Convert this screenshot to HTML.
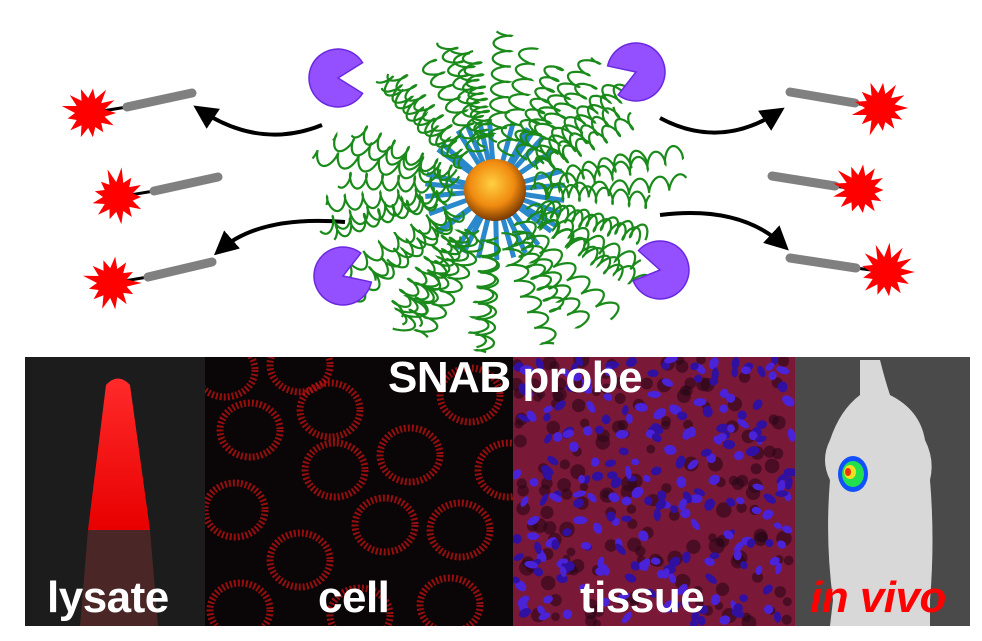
<!DOCTYPE html><html><head><meta charset="utf-8"><style>
html,body{margin:0;padding:0;background:#fff;width:982px;height:641px;overflow:hidden;font-family:"Liberation Sans",sans-serif}
svg{position:absolute;left:0;top:0}
.lab{position:absolute;font-weight:bold;font-size:44px;line-height:50px;color:#fff;letter-spacing:-0.5px}
</style></head><body>
<svg id="s" width="982" height="641" viewBox="0 0 982 641">
<defs>
<radialGradient id="np" cx="0.45" cy="0.4" r="0.6"><stop offset="0" stop-color="#ffd040"/><stop offset="0.6" stop-color="#f08a10"/><stop offset="1" stop-color="#7a3a00"/></radialGradient>
<linearGradient id="tube" x1="0" y1="0" x2="0" y2="1"><stop offset="0" stop-color="#ff2a2a"/><stop offset="1" stop-color="#e80000"/></linearGradient>
<marker id="ah" markerWidth="6" markerHeight="6" refX="4" refY="3" orient="auto" markerUnits="strokeWidth"><path d="M0,0 L6,3 L0,6 Z" fill="#000"/></marker>
<clipPath id="cc"><rect x="205" y="357" width="308" height="269"/></clipPath>
<clipPath id="tc"><rect x="513" y="357" width="282" height="269"/></clipPath>
</defs>
<g id="topg"></g>
<rect x="25" y="357" width="180" height="269" fill="#1c1c1c"/>
<path d="M106,385 Q118,372 130,385 L150,530 L88,530 Z" fill="url(#tube)"/>
<path d="M88,530 L150,530 L158,626 L80,626 Z" fill="#4a2626"/>
<rect x="205" y="357" width="308" height="269" fill="#0a0506"/>
<g id="cells" clip-path="url(#cc)"></g>
<rect x="513" y="357" width="282" height="269" fill="#7a1838"/>
<g id="tissue" clip-path="url(#tc)"></g>
<rect x="795" y="357" width="175" height="269" fill="#4a4a4a"/>
<path d="M860,360 L880,360 Q885,380 890,395 Q920,410 925,440 Q935,460 930,480 Q935,540 930,600 L930,626 L830,626 L833,600 Q825,540 830,480 Q820,460 830,440 Q840,410 860,395 Z" fill="#d8d8d8"/>
<ellipse cx="853" cy="474" rx="15" ry="18" fill="#1050ff"/>
<ellipse cx="853" cy="474" rx="11" ry="13" fill="#20e050"/>
<ellipse cx="850" cy="472" rx="6" ry="7" fill="#f0e020"/>
<ellipse cx="848" cy="472" rx="3" ry="4" fill="#f03010"/>
</svg>
<div class="lab" style="left:388px;top:353px">SNAB probe</div>
<div class="lab" style="left:47px;top:573px">lysate</div>
<div class="lab" style="left:318px;top:573px">cell</div>
<div class="lab" style="left:580px;top:573px">tissue</div>
<div class="lab" style="left:810px;top:573px;color:#f00;font-style:italic">in vivo</div>
<script>
(function(){
var NS="http://www.w3.org/2000/svg";
function el(p,t,a){var e=document.createElementNS(NS,t);for(var k in a)e.setAttribute(k,a[k]);p.appendChild(e);return e;}
var tg0=document.getElementById("topg");
var seed=7;function rnd(){seed=(seed*9301+49297)%233280;return seed/233280;}
function star(cx,cy,r){var p="";var n=26;for(var i=0;i<n;i++){var rr=i%2?r*0.5:r*(0.75+0.25*rnd());var a=i/n*Math.PI*2;p+=(i?"L":"M")+(cx+rr*Math.cos(a)).toFixed(1)+","+(cy+rr*Math.sin(a)).toFixed(1);}el(tg0,"path",{d:p+"Z",fill:"#ff0000"});}
function bar(x1,y1,x2,y2){el(tg0,"line",{x1:x1,y1:y1,x2:x2,y2:y2,stroke:"#808080","stroke-width":9,"stroke-linecap":"round"});}
var L=[[90,113,127,107,192,93],[118,197,154,191,218,177],[112,283,148,277,212,262]];
L.forEach(function(a){el(tg0,"line",{x1:a[0],y1:a[1],x2:a[2],y2:a[3],stroke:"#000","stroke-width":3});bar(a[2],a[3],a[4],a[5]);star(a[0],a[1],30);});
var R=[[880,108,855,103,790,92],[860,190,835,186,772,176],[886,272,856,268,790,258]];
R.forEach(function(a){el(tg0,"line",{x1:a[0],y1:a[1],x2:a[2],y2:a[3],stroke:"#000","stroke-width":3});bar(a[2],a[3],a[4],a[5]);star(a[0],a[1],30);});
["M322,125 Q260,150 200,110","M345,222 Q260,215 220,250","M660,118 Q720,150 778,112","M660,215 Q740,205 783,245"].forEach(function(d){el(tg0,"path",{d:d,fill:"none",stroke:"#000","stroke-width":4,"marker-end":"url(#ah)"});});
function pac(cx,cy,r,ang){var a1=(ang-32)*Math.PI/180,a2=(ang+32)*Math.PI/180;var d="M"+cx+","+cy+"L"+(cx+r*Math.cos(a1))+","+(cy+r*Math.sin(a1))+"A"+r+","+r+" 0 1,0 "+(cx+r*Math.cos(a2))+","+(cy+r*Math.sin(a2))+"Z";el(tg0,"path",{d:d,fill:"#9450ff",stroke:"#6a28e0","stroke-width":1.5});}
var cx=495,cy=190;
var gh=el(tg0,"g",{});
for(var i=0;i<30;i++){var a=i/30*Math.PI*2+rnd()*0.2;var ca=Math.cos(a),sa=Math.sin(a);
 el(gh,"line",{x1:cx+ca*30,y1:cy+sa*30,x2:cx+ca*70,y2:cy+sa*70,stroke:"#2a88cc","stroke-width":5});}
for(var i=0;i<46;i++){var a=i/46*Math.PI*2+(rnd()-0.5)*0.3;var ca=Math.cos(a),sa=Math.sin(a);
 var R1=140+rnd()*35;var sx=1.1,sy=0.95;
 var r0=35+rnd()*25;var p="";var n=160;var ph=rnd()*6;var bend=(rnd()-0.5)*0.0018;
 for(var j=0;j<=n;j++){var t=r0+(R1-r0)*j/n;var ang=j*0.28+ph;var w=8*Math.sin(ang)+bend*t*t;var u=t+3*Math.cos(ang);
  var x=cx+(ca*u-sa*w)*sx,y=cy+(sa*u+ca*w)*sy;p+=(j?"L":"M")+x.toFixed(1)+","+y.toFixed(1);}
 el(gh,"path",{d:p,fill:"none",stroke:"#1a8a1a","stroke-width":2.2});}
el(tg0,"circle",{cx:cx,cy:cy,r:31,fill:"url(#np)"});
pac(338,78,29,0);pac(636,72,29,160);pac(343,276,29,-20);pac(660,270,29,190);
var cg=document.getElementById("cells");
[[225,370],[300,365],[250,430],[330,410],[410,455],[470,395],[235,510],[300,560],[385,525],[460,530],[335,470],[450,605],[240,610],[360,615],[508,470]].forEach(function(c){
 el(cg,"ellipse",{cx:c[0],cy:c[1],rx:30,ry:27,fill:"none",stroke:"#b81010","stroke-width":7,"stroke-dasharray":"2 2",opacity:0.8});});
var tg=document.getElementById("tissue");
for(var i=0;i<160;i++){var x=515+rnd()*278,y=359+rnd()*265;el(tg,"circle",{cx:x,cy:y,r:4+rnd()*4,fill:"#2a0618",opacity:0.6});}
for(var i=0;i<240;i++){var x=515+rnd()*278,y=359+rnd()*265;el(tg,"ellipse",{cx:x.toFixed(1),cy:y.toFixed(1),rx:4+rnd()*3,ry:3+rnd()*2,fill:rnd()<0.5?"#4a22d8":"#3010a0",transform:"rotate("+(rnd()*180|0)+" "+x.toFixed(1)+" "+y.toFixed(1)+")"});}
})();
</script>
</body></html>
